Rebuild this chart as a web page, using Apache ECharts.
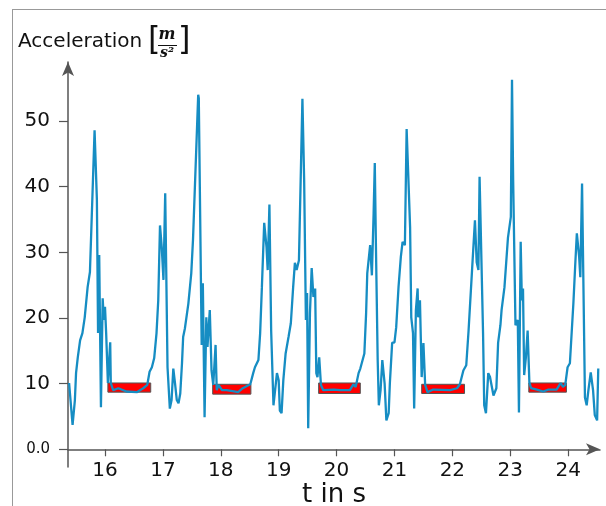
<!DOCTYPE html>
<html>
<head>
<meta charset="utf-8">
<script src="https://cdn.jsdelivr.net/npm/echarts@6/dist/echarts.min.js"></script>
<style>
html, body { margin: 0; padding: 0; background: #fff; }
#graph { width: 606px; height: 506px; }
</style>
</head>
<body>
<div id="graph"></div>
<script>
// time in s, acceleration in m/s^2
var tSec = [
  15.38, 15.44, 15.48, 15.50, 15.53, 15.57, 15.61, 15.65, 15.70, 15.74, 15.77, 15.79, 15.82, 15.86, 15.88, 15.90,
  15.91, 15.93, 15.96, 15.98, 16.00, 16.02, 16.05, 16.09, 16.10, 16.14, 16.23, 16.37, 16.55, 16.66, 16.73, 16.77,
  16.81, 16.85, 16.89, 16.92, 16.95, 16.98, 17.01, 17.04, 17.08, 17.12, 17.15, 17.18, 17.21, 17.24, 17.27, 17.30,
  17.33, 17.35, 17.38, 17.41, 17.44, 17.49, 17.52, 17.54, 17.61, 17.62, 17.67, 17.69, 17.72, 17.75, 17.77, 17.81,
  17.84, 17.87, 17.91, 17.93, 17.96, 18.02, 18.10, 18.30, 18.38, 18.51, 18.56, 18.59, 18.62, 18.65, 18.68, 18.71,
  18.75, 18.79, 18.81, 18.84, 18.87, 18.91, 18.97, 19.00, 19.02, 19.05, 19.08, 19.12, 19.17, 19.21, 19.25, 19.28,
  19.31, 19.35, 19.37, 19.41, 19.44, 19.47, 19.49, 19.51, 19.54, 19.57, 19.60, 19.63, 19.65, 19.67, 19.70, 19.73,
  19.77, 19.95, 20.06, 20.23, 20.29, 20.33, 20.38, 20.41, 20.44, 20.48, 20.51, 20.53, 20.58, 20.61, 20.64, 20.66,
  20.68, 20.71, 20.73, 20.76, 20.79, 20.83, 20.86, 20.90, 20.92, 20.96, 21.00, 21.03, 21.07, 21.11, 21.14, 21.18,
  21.21, 21.24, 21.27, 21.29, 21.32, 21.34, 21.37, 21.40, 21.41, 21.44, 21.47, 21.50, 21.53, 21.57, 21.60, 21.67,
  21.96, 22.08, 22.13, 22.19, 22.24, 22.28, 22.34, 22.39, 22.42, 22.45, 22.47, 22.49, 22.53, 22.55, 22.58, 22.62,
  22.65, 22.71, 22.76, 22.79, 22.83, 22.85, 22.90, 22.96, 22.99, 23.01, 23.03, 23.05, 23.09, 23.13, 23.15, 23.18,
  23.20, 23.22, 23.24, 23.27, 23.30, 23.33, 23.36, 23.46, 23.57, 23.66, 23.80, 23.87, 23.91, 23.95, 23.99, 24.03,
  24.09, 24.12, 24.15, 24.19, 24.21, 24.24, 24.26, 24.29, 24.32, 24.35, 24.39, 24.43, 24.46, 24.50, 24.52
];
var accel = [
  10.1, 3.7, 7.5, 11.6, 14.0, 16.6, 17.7, 20.1, 24.7, 27.0, 27.3, 40.5, 48.6, 38.0, 17.7, 29.6,
  29.3, 6.4, 23.0, 19.7, 21.7, 17.7, 10.1, 16.3, 10.1, 9.0, 9.3, 8.8, 8.7, 9.3, 9.8, 11.8,
  12.5, 13.9, 17.7, 22.7, 34.1, 30.8, 25.8, 39.0, 12.5, 6.2, 7.5, 12.3, 10.0, 7.5, 7.0, 8.5,
  13.1, 17.1, 18.4, 18.6, 22.2, 26.8, 31.9, 31.9, 54.0, 53.5, 15.9, 25.3, 4.9, 20.1, 15.6, 21.2,
  12.0, 9.8, 15.9, 9.0, 9.8, 9.0, 9.0, 8.7, 9.3, 9.9, 11.6, 12.5, 12.5, 13.6, 17.7, 24.7,
  34.5, 30.8, 27.3, 37.3, 18.1, 6.7, 11.6, 10.5, 5.9, 5.5, 10.5, 14.6, 17.1, 19.2, 24.7, 28.4,
  27.3, 28.8, 28.8, 53.4, 41.0, 19.7, 23.8, 3.2, 20.7, 27.6, 23.2, 24.5, 11.6, 11.0, 14.0, 9.8,
  9.0, 9.1, 9.0, 9.0, 9.9, 9.5, 11.6, 12.3, 12.0, 14.6, 20.7, 26.8, 31.1, 26.5, 36.0, 43.6,
  30.8, 13.6, 6.7, 9.0, 13.6, 10.0, 4.4, 5.5, 10.0, 16.2, 16.3, 18.6, 24.7, 29.3, 31.6, 31.1,
  48.8, 48.6, 33.8, 20.1, 17.7, 6.2, 21.2, 24.5, 20.1, 22.7, 11.0, 16.2, 9.8, 8.7, 8.5, 9.1,
  9.0, 9.3, 9.9, 12.0, 12.8, 18.1, 27.3, 34.9, 28.5, 27.3, 41.5, 41.3, 17.7, 6.7, 5.5, 11.6,
  11.0, 8.2, 9.3, 16.2, 18.9, 21.2, 24.7, 32.2, 32.2, 35.4, 56.3, 41.0, 18.9, 19.7, 5.6, 31.6,
  22.7, 24.5, 11.3, 14.0, 18.1, 10.2, 9.3, 9.1, 8.8, 9.1, 9.1, 10.1, 9.5, 9.8, 12.5, 13.1,
  22.2, 27.7, 32.9, 29.3, 26.2, 40.5, 40.2, 7.9, 6.7, 9.0, 11.7, 9.0, 5.2, 4.4, 12.3
];

// red marked rest phases
var boxStart = [16.05, 17.86, 19.69, 21.47, 23.32];
var boxEnd = [16.79, 18.52, 20.41, 22.21, 23.97];
var boxLow = [8.7, 8.4, 8.5, 8.5, 8.7];
var boxHigh = [10.1, 9.9, 10.1, 9.9, 10.1];

var xTicks = [16, 17, 18, 19, 20, 21, 22, 23, 24];
var yTicks = [0, 10, 20, 30, 40, 50];

var FONT = '"DejaVu Sans", Verdana, sans-serif';
var AXIS = '#555';

var chart = echarts.init(document.getElementById('graph'), null, { renderer: 'canvas' });

var option = {
  animation: false,
  backgroundColor: '#fff',
  grid: { left: 68, right: 6, top: 62, bottom: 39, containLabel: false, outerBoundsMode: 'none' },
  xAxis: {
    type: 'value',
    min: 15.361,
    max: 24.55,
    name: 't in s',
    nameLocation: 'middle',
    nameGap: 15,
    nameMoveOverlap: false,
    nameTextStyle: { fontFamily: FONT, fontSize: 26, color: '#111' },
    axisLine: { onZero: true, symbol: ['none', 'arrow'], symbolSize: [9, 14], lineStyle: { color: AXIS, width: 1.5 } },
    axisTick: { show: true, customValues: xTicks, length: 7, lineStyle: { color: AXIS, width: 1.2 } },
    axisLabel: { customValues: xTicks, margin: -6, fontFamily: FONT, fontSize: 20, color: '#111' },
    splitLine: { show: false }
  },
  yAxis: {
    type: 'value',
    min: -2.7,
    max: 59,
    axisLine: { symbol: ['none', 'arrow'], symbolSize: [9, 14], lineStyle: { color: AXIS, width: 1.5 } },
    axisTick: { show: true, customValues: yTicks, length: 9, lineStyle: { color: AXIS, width: 1.2 } },
    axisLabel: {
      customValues: yTicks,
      margin: 18,
      fontFamily: FONT,
      fontSize: 20,
      color: '#111',
      formatter: function (v) { return v === 0 ? '{z|0.0}' : String(v); },
      rich: { z: { fontFamily: FONT, fontSize: 15, color: '#111' } }
    },
    splitLine: { show: false }
  },
  graphic: [
    { type: 'line', silent: true, shape: { x1: 12, y1: 9.5, x2: 606, y2: 9.5 }, style: { stroke: '#999', lineWidth: 1 } },
    { type: 'line', silent: true, shape: { x1: 12.5, y1: 9.5, x2: 12.5, y2: 506 }, style: { stroke: '#999', lineWidth: 1 } },
    { type: 'text', x: 18, y: 32, style: { text: 'Acceleration', font: '20px ' + FONT, fill: '#111' } },
    { type: 'text', x: 148, y: 25, style: { text: '[', font: '32px ' + FONT, fill: '#111' } },
    { type: 'text', x: 167, y: 27, style: { text: 'm', font: 'italic bold 16px "DejaVu Serif", serif', fill: '#111', align: 'center' } },
    { type: 'line', silent: true, shape: { x1: 158, y1: 45.5, x2: 177, y2: 45.5 }, style: { stroke: '#111', lineWidth: 1 } },
    { type: 'text', x: 167, y: 46, style: { text: 's²', font: 'italic bold 14px "DejaVu Serif", serif', fill: '#111', align: 'center' } },
    { type: 'text', x: 178, y: 25, style: { text: ']', font: '32px ' + FONT, fill: '#111' } }
  ],
  series: [
    {
      type: 'custom',
      z: 1,
      silent: true,
      encode: { x: [0, 1], y: [2, 3] },
      data: boxStart.map(function (s, i) { return [s, boxEnd[i], boxLow[i], boxHigh[i]]; }),
      renderItem: function (params, api) {
        var p0 = api.coord([api.value(0), api.value(3)]);
        var p1 = api.coord([api.value(1), api.value(2)]);
        return {
          type: 'rect',
          shape: { x: p0[0], y: p0[1], width: p1[0] - p0[0], height: p1[1] - p0[1] },
          style: { fill: '#ff0000', stroke: '#555', lineWidth: 1 }
        };
      }
    },
    {
      name: 'Acceleration',
      type: 'line',
      z: 3,
      showSymbol: false,
      symbol: 'none',
      data: tSec.map(function (t, i) { return [t, accel[i]]; }),
      lineStyle: { color: '#168dc3', width: 2.3 }
    }
  ]
};

chart.setOption(option);
</script>
</body>
</html>
